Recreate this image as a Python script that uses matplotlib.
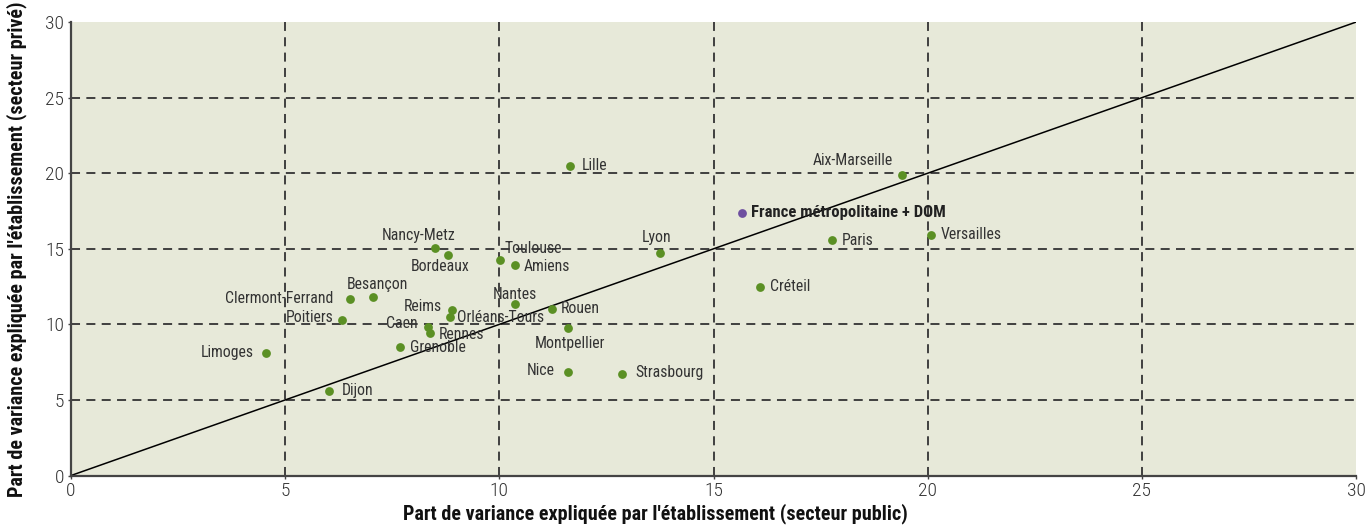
import numpy as np
import matplotlib.pyplot as plt

plt.rcParams['font.family'] = ['Roboto Condensed', 'DejaVu Sans']

# Part de variance expliquée par l'établissement, par académie
academies = ["Lille", "Aix-Marseille", "Paris", "Versailles", "Lyon", "Créteil",
             "Nancy-Metz", "Bordeaux", "Toulouse", "Amiens", "Clermont-Ferrand",
             "Besançon", "Poitiers", "Reims", "Orléans-Tours", "Caen", "Rennes",
             "Grenoble", "Limoges", "Dijon", "Nantes", "Rouen", "Montpellier",
             "Nice", "Strasbourg"]
public = [11.66, 19.41, 17.77, 20.08, 13.75, 16.08,
          8.49, 8.79, 10.02, 10.36, 6.51,
          7.06, 6.32, 8.90, 8.84, 8.33, 8.38,
          7.68, 4.55, 6.02, 10.36, 11.23, 11.60,
          11.60, 12.87]
prive = [20.50, 19.85, 15.55, 15.88, 14.74, 12.48,
         15.07, 14.58, 14.23, 13.92, 11.71,
         11.80, 10.28, 10.98, 10.52, 9.85, 9.42,
         8.49, 8.11, 5.60, 11.34, 11.03, 9.79,
         6.87, 6.74]
france_label = "France métropolitaine + DOM"
france_public = 15.66
france_prive = 17.38

# label placement: offset in pixels from the dot, horizontal alignment
offsets = {
    "Lille": (11, 0, "left"), "Aix-Marseille": (-9, 15, "right"),
    "Paris": (10, 0, "left"), "Versailles": (10, 1, "left"),
    "Lyon": (-3, 15, "center"), "Créteil": (10, 0, "left"),
    "Nancy-Metz": (-16, 12, "center"), "Bordeaux": (-7, -11, "center"),
    "Toulouse": (4, 12, "left"), "Amiens": (9, -1, "left"),
    "Clermont-Ferrand": (-17, 0, "right"), "Besançon": (4, 13, "center"),
    "Poitiers": (-8, 3, "right"), "Reims": (-10, 3, "right"),
    "Orléans-Tours": (7, -1, "left"), "Caen": (-10, 3, "right"),
    "Rennes": (9, -1, "left"), "Grenoble": (10, 0, "left"),
    "Limoges": (-12, 0, "right"), "Dijon": (13, 0, "left"),
    "Nantes": (0, 10, "center"), "Rouen": (9, 0, "left"),
    "Montpellier": (2, -16, "center"), "Nice": (-13, 1, "right"),
    "Strasbourg": (13, 1, "left"),
}

green = "#5b9024"
purple = "#6e4fa0"

fig = plt.figure(figsize=(13.66, 5.26), dpi=100)
ax = fig.add_axes([0.052, 0.096, 0.9407, 0.862])
ax.set_facecolor("#e7e9d9")

ax.set_xlim(0, 30)
ax.set_ylim(0, 30)
ticks = [0, 5, 10, 15, 20, 25, 30]
ax.set_xticks(ticks)
ax.set_yticks(ticks)

for v in [5, 10, 15, 20, 25]:
    ax.axvline(v, color="#333333", lw=1.3, ls=(0, (5, 3.5)), zorder=1)
    ax.axhline(v, color="#333333", lw=1.3, ls=(0, (5, 3.5)), zorder=1)

ax.plot([0, 30], [0, 30], color="black", lw=1.1, zorder=2)

ax.scatter(public, prive, s=40, color=green, zorder=3, linewidths=0)
ax.scatter([france_public], [france_prive], s=40, color=purple, zorder=3, linewidths=0)

for name, x, y in zip(academies, public, prive):
    dx, dy, ha = offsets[name]
    ax.annotate(name, (x, y), xytext=(dx, dy), textcoords="offset pixels",
                ha=ha, va="center", fontsize=11.3, color="#333333", zorder=4)
ax.annotate(france_label, (france_public, france_prive), xytext=(9, 0),
            textcoords="offset pixels", ha="left", va="center",
            fontsize=12, fontweight="bold", color="#222222", zorder=4)

for side in ["top", "right"]:
    ax.spines[side].set_visible(False)
for side in ["left", "bottom"]:
    ax.spines[side].set_color("#444444")
    ax.spines[side].set_linewidth(1.6)

ax.tick_params(axis="both", length=2, width=1, color="#444444",
               labelsize=14, labelcolor="#333333", pad=3)
for lab in ax.get_xticklabels() + ax.get_yticklabels():
    lab.set_fontweight("light")

ax.set_xlabel("Part de variance expliquée par l'établissement (secteur public)",
              fontsize=14.5, fontweight="bold", color="#111111")
ax.set_ylabel("Part de variance expliquée par l'établissement (secteur privé)",
              fontsize=14.5, fontweight="bold", color="#111111", labelpad=13)
ax.xaxis.set_label_coords(0.4545, -0.062)

fig.savefig("out.png", dpi=100)
